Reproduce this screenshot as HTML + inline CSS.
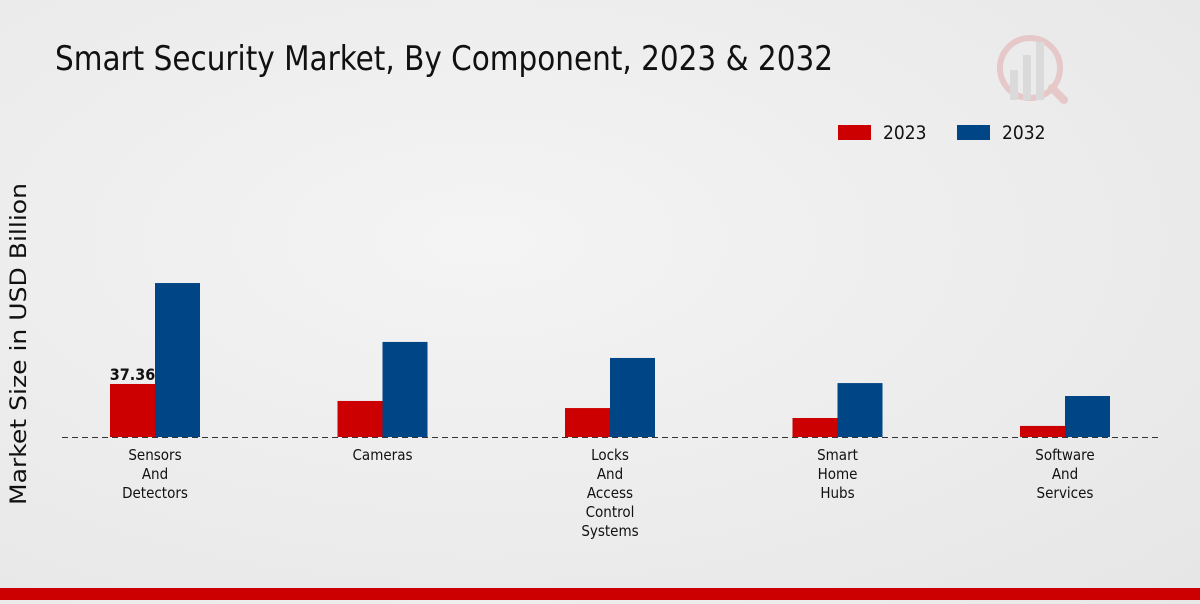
<!DOCTYPE html>
<html><head><meta charset="utf-8"><style>
body{margin:0;width:1200px;height:600px;overflow:hidden;background:radial-gradient(ellipse at 40% 40%,#f4f4f4 0%,#e6e6e6 100%);font-family:"Liberation Sans Narrow","DejaVu Sans Condensed","Liberation Sans",sans-serif;}
</style></head><body>
<svg width="1200" height="600" xmlns="http://www.w3.org/2000/svg">
<text x="55" y="70" font-size="34" textLength="778" lengthAdjust="spacingAndGlyphs" fill="#111">Smart Security Market, By Component, 2023 &amp; 2032</text>
<g opacity="0.35">
<circle cx="1030" cy="68" r="30" fill="none" stroke="#d88" stroke-width="6"/>
<rect x="1010" y="70" width="8" height="30" fill="#bbb"/><rect x="1023" y="55" width="8" height="45" fill="#bbb"/><rect x="1036" y="42" width="8" height="58" fill="#bbb"/>
<line x1="1052" y1="88" x2="1064" y2="100" stroke="#d88" stroke-width="8" stroke-linecap="round"/>
</g>
<g>
<rect x="838" y="125" width="33" height="15" fill="#cc0000"/>
<text x="883" y="139" font-size="19" fill="#111">2023</text>
<rect x="957" y="125" width="33" height="15" fill="#004586"/>
<text x="1002" y="139" font-size="19" fill="#111">2032</text>
</g>
<text transform="translate(26,344) rotate(-90)" text-anchor="middle" font-size="22" textLength="322" lengthAdjust="spacingAndGlyphs" fill="#111" font-family="DejaVu Sans,sans-serif">Market Size in USD Billion</text>
<g id="bars"></g>
<line x1="62" y1="437.5" x2="1160" y2="437.5" stroke="#333" stroke-dasharray="6,4"/>
<g id="labels"></g>
<rect x="0" y="588" width="1200" height="12" fill="#cc0000"/>
</svg>
<script>
const categories=[["Sensors","And","Detectors"],["Cameras"],["Locks","And","Access","Control","Systems"],["Smart","Home","Hubs"],["Software","And","Services"]];
const values2023=[37.36,25.4,20.4,13.4,7.8];
const values2032=[108.5,67,55.7,38,28.9];
const NS="http://www.w3.org/2000/svg";
const base=437,scale=1.419,x0=155,step=227.5,bw=45;
const y=v=>base-v*scale, xc=i=>x0+i*step;
const bars=document.getElementById('bars'),labels=document.getElementById('labels');
function mk(t,a){const e=document.createElementNS(NS,t);for(const k in a)e.setAttribute(k,a[k]);return e;}
categories.forEach((c,i)=>{
 const r1=mk('rect',{x:xc(i)-bw,y:y(values2023[i]),width:bw,height:values2023[i]*scale,fill:'#cc0000'});
 
 
 bars.appendChild(r1);
 const r2=mk('rect',{x:xc(i),y:y(values2032[i]),width:bw,height:values2032[i]*scale,fill:'#004586'});
 
 
 bars.appendChild(r2);
 const t=mk('text',{'text-anchor':'middle','font-size':'15',fill:'#111'});
 
 
 c.forEach((line,j)=>{const ts=mk('tspan',{x:xc(i),y:460+j*19});ts.textContent=line;t.appendChild(ts);});
 labels.appendChild(t);
});
const v=mk('text',{x:xc(0)-bw/2,y:y(values2023[0])-4,'text-anchor':'middle','font-size':'16','font-weight':'bold',fill:'#111'});


v.textContent=values2023[0];
labels.appendChild(v);
</script>
</body></html>
